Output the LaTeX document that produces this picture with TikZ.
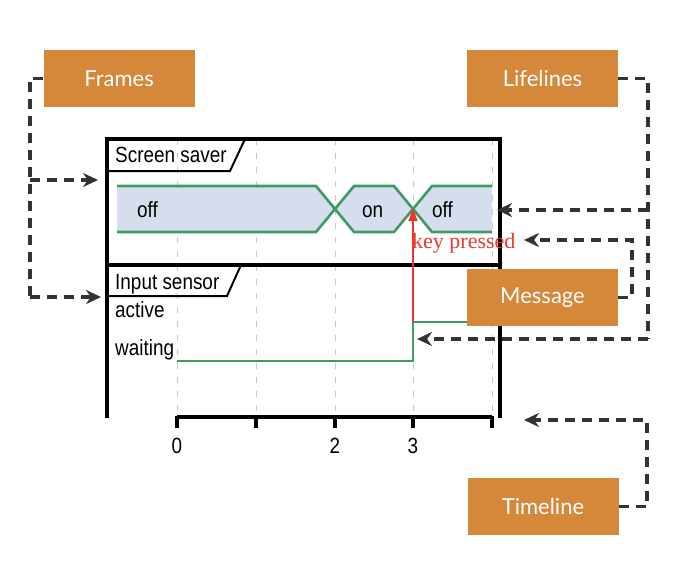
\documentclass[tikz,border=0pt]{standalone}
\usepackage{fontspec}
\setmainfont{Liberation Sans}
\newfontfamily\boxfont{Lato}
\newfontfamily\dfont[FakeStretch=0.86]{Liberation Sans}
\newfontfamily\kfont{Liberation Serif}
\usetikzlibrary{arrows.meta}
\definecolor{boxorange}{HTML}{D5873A}
\definecolor{connc}{HTML}{333333}
\definecolor{bandfill}{HTML}{D6DDEC}
\definecolor{siggreen}{HTML}{3F9B62}
\definecolor{keyred}{HTML}{E83A2E}
\definecolor{gridc}{HTML}{C8C8C8}
\begin{document}
\begin{tikzpicture}[x=1pt,y=-1pt,
  lbl/.style={fill=boxorange, text=white, minimum width=151pt, minimum height=57pt,
    inner sep=0pt, font=\boxfont\fontsize{22}{26}\selectfont},
  conn/.style={draw=connc, line width=3.8pt, dash pattern=on 10pt off 7pt,
    -{Stealth[length=15pt,width=14pt]}},
  connplain/.style={draw=connc, line width=3.8pt, dash pattern=on 10pt off 7pt},
  dtxt/.style={inner sep=0pt, font=\dfont\fontsize{22}{26}\selectfont},
  gridline/.style={draw=gridc, line width=1pt, dash pattern=on 6pt off 8pt},
  frameline/.style={draw=black, line width=3.2pt},
  tabline/.style={draw=black, line width=2pt},
  sig/.style={draw=siggreen, line width=2.6pt},
  band/.style={fill=bandfill},
  tick/.style={draw=black, line width=3.2pt}
]
\useasboundingbox (0,0) rectangle (676,565);

% grid lines
\foreach \gx in {177,256,335,413,492} {
  \draw[gridline] (\gx,139) -- (\gx,417);
}

% screen saver band
\fill[band] (117,186) -- (316,186) -- (335,209) -- (316,232) -- (117,232) -- cycle;
\fill[band] (335,209) -- (354,186) -- (394,186) -- (413,209) -- (394,232) -- (354,232) -- cycle;
\fill[band] (413,209) -- (432,186) -- (492,186) -- (492,232) -- (432,232) -- cycle;
\draw[sig] (117,186) -- (316,186) -- (335,209) -- (316,232) -- (117,232);
\draw[sig] (335,209) -- (354,186) -- (394,186) -- (413,209) -- (394,232) -- (354,232) -- cycle;
\draw[sig] (492,186) -- (432,186) -- (413,209) -- (432,232) -- (492,232);

% frames
\draw[frameline] (107,418) -- (107,139) -- (500,139) -- (500,418);
\draw[frameline] (107,265) -- (500,265);
\draw[tabline] (107,171) -- (230,171) -- (245,139);
\draw[tabline] (107,296) -- (227,296) -- (241,265);

% texts
\node[dtxt, anchor=base west] (tss) at (115,162) {Screen saver};
\node[dtxt, anchor=base west] (tis) at (115,289) {Input sensor};
\node[dtxt, anchor=base west] (tact) at (115,317) {active};
\node[dtxt, anchor=base west] (twait) at (115,355) {waiting};
\node[dtxt, anchor=base west] (toff1) at (137,217) {off};
\node[dtxt, anchor=base west] (ton) at (362,217) {on};
\node[dtxt, anchor=base west] (toff2) at (432,217) {off};
\node[inner sep=0pt, anchor=base west, text=keyred, font=\kfont\fontsize{22}{26}\selectfont] (tkey) at (412,248) {key pressed};

% input sensor signal
\draw[sig] (177,361) -- (413,361) -- (413,322) -- (492,322);

% message arrow
\coordinate (kpA) at (413,322);
\coordinate (kpB) at (413,208);
\draw[draw=keyred, line width=1.4pt, -{Triangle[length=13pt,width=9pt]}] (kpA) -- (kpB);

% time axis
\draw[tick] (177,417) -- (492,417);
\foreach \gx in {177,256,335,413,492} {
  \draw[tick] (\gx,416) -- (\gx,428);
}
\node[dtxt, anchor=base] (d0) at (177,453) {0};
\node[dtxt, anchor=base] (d2) at (335,453) {2};
\node[dtxt, anchor=base] (d3) at (413,453) {3};

% label boxes
\node[lbl] (frames) at (119,78.5) {Frames};
\node[lbl] (lifelines) at (542.5,78.5) {Lifelines};
\node[lbl] (message) at (542.5,297.5) {Message};
\node[lbl] (timeline) at (543,506.5) {Timeline};

% connectors
\coordinate (fA) at (30,180);
\coordinate (fB) at (30,297);
\coordinate (fTa) at (98,180);
\coordinate (fTb) at (101,297);
\draw[connplain] (frames.west) -| (fB);
\draw[conn] (fA) -- (fTa);
\draw[conn] (fB) -- (fTb);

\coordinate (lA) at (648,210);
\coordinate (lB) at (648,339);
\coordinate (lTa) at (497,210);
\coordinate (lTb) at (417,339);
\draw[connplain] (lifelines.east) -| (lB);
\draw[conn] (lA) -- (lTa);
\draw[conn] (lB) -- (lTb);

\coordinate (mA) at (632,240);
\coordinate (mT) at (524,240);
\draw[conn] (message.east) -| (mA) -- (mT);

\coordinate (tA) at (647,420);
\coordinate (tT) at (524,420);
\draw[conn] (timeline.east) -| (tA) -- (tT);
\end{tikzpicture}
\end{document}
